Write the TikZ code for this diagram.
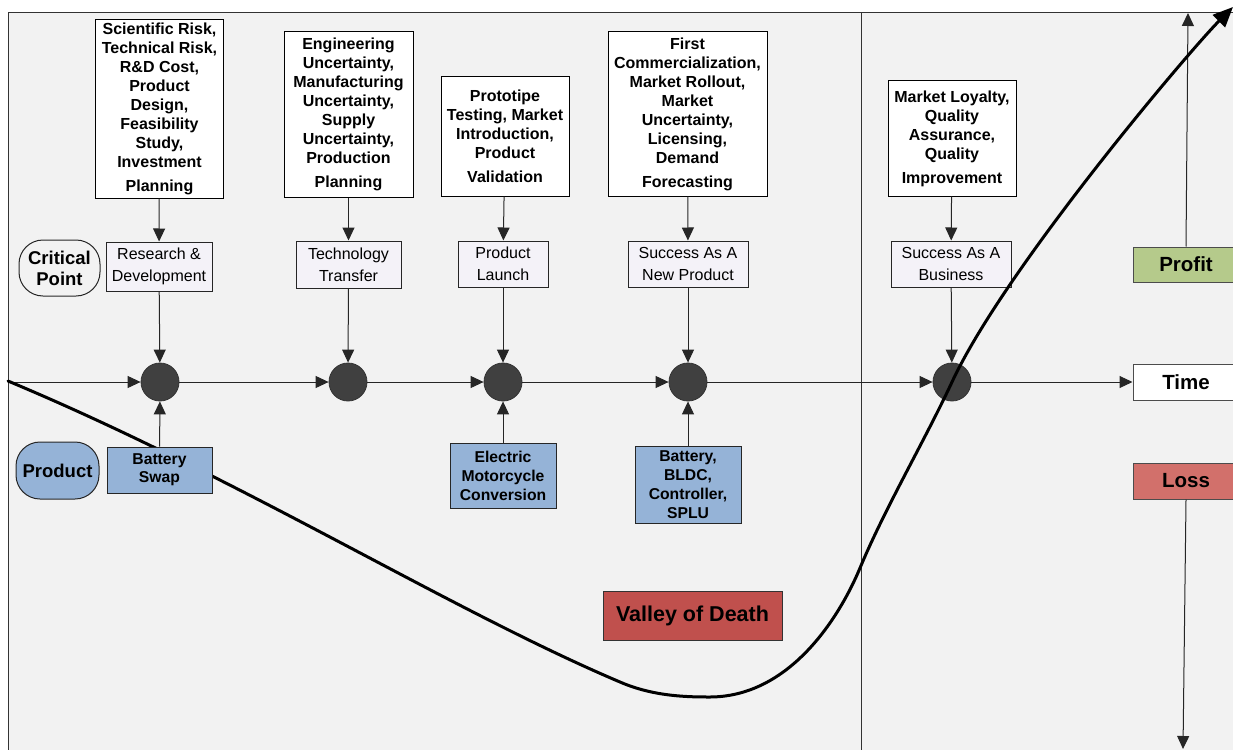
\documentclass[tikz,border=0pt]{standalone}
\usepackage{fontspec}
\setmainfont{Liberation Sans}
\usetikzlibrary{arrows.meta}
\definecolor{panel}{HTML}{F2F2F2}
\definecolor{lav}{HTML}{F4F2F8}
\definecolor{blu}{HTML}{95B3D7}
\definecolor{grn}{HTML}{B5CA8B}
\definecolor{lossc}{HTML}{D2706B}
\definecolor{valc}{HTML}{C0504D}
\definecolor{dotc}{HTML}{404040}
\begin{document}
\begin{tikzpicture}[x=1pt,y=-1pt,
  topbox/.style={draw=black, line width=1pt, fill=white, align=center, inner sep=0.5pt,
    font=\fontsize{16}{19}\selectfont\bfseries},
  midbox/.style={draw=black!85, line width=1pt, fill=lav, align=center, inner sep=0.5pt,
    font=\fontsize{16}{22}\selectfont},
  prodbox/.style={draw=black!85, line width=1pt, fill=blu, align=center, inner sep=0.5pt,
    font=\fontsize{15.7}{19}\selectfont\bfseries},
  sidebox/.style={draw=black!85, line width=1pt, align=center, inner sep=0.5pt,
    rounded corners=24pt, font=\fontsize{18.5}{21}\selectfont\bfseries},
  axisbox/.style={draw=black!70, line width=1pt, align=center, inner sep=0.5pt,
    minimum width=106pt, font=\fontsize{20.5}{24}\selectfont\bfseries},
  dot/.style={circle, fill=dotc, draw=black!80, line width=0.8pt, minimum size=38pt, inner sep=0pt},
  arr/.style={draw=black!85, line width=1pt, -{Triangle[length=13pt,width=12pt]}},
  bord/.style={draw=black!80, line width=1pt},
  curve/.style={line width=3pt, line cap=round, -{Triangle[length=20pt,width=17pt]}}
]
\useasboundingbox (0,0) rectangle (1233,749);
\fill[panel] (8,13) rectangle (1240,760);
\draw[bord] (8,760) -- (8,13) -- (1240,13);
\draw[bord] (861,13) -- (861,760);

% top boxes
\node[topbox, minimum width=128pt, minimum height=178pt] (A) at (159.5,109)
  {Scientific Risk,\\Technical Risk,\\R\&D Cost,\\Product\\Design,\\Feasibility\\Study,\\Investment\\[5pt]Planning};
\node[topbox, minimum width=129pt, minimum height=165pt] (B) at (348.5,114.5)
  {Engineering\\Uncertainty,\\Manufacturing\\Uncertainty,\\Supply\\Uncertainty,\\Production\\[5pt]Planning};
\node[topbox, minimum width=128pt, minimum height=119pt] (C) at (505,136.5)
  {Prototipe\\Testing, Market\\Introduction,\\Product\\[5pt]Validation};
\node[topbox, minimum width=159pt, minimum height=164pt] (D) at (687.5,114)
  {First\\Commercialization,\\Market Rollout,\\Market\\Uncertainty,\\Licensing,\\Demand\\[5pt]Forecasting};
\node[topbox, minimum width=128pt, minimum height=115pt] (E) at (952,138.5)
  {Market Loyalty,\\Quality\\Assurance,\\Quality\\[5pt]Improvement};

% critical points
\node[midbox, minimum width=106pt, minimum height=49pt] (RD) at (159,266.5) {Research \&\\Development};
\node[midbox, minimum width=105pt, minimum height=47pt] (TT) at (348.5,264.5) {Technology\\Transfer};
\node[midbox, minimum width=90pt, minimum height=46pt] (PL) at (503,264) {Product\\Launch};
\node[midbox, minimum width=120pt, minimum height=46pt] (SN) at (688,264) {Success As A\\New Product};
\node[midbox, minimum width=120pt, minimum height=46pt] (SB) at (951,264) {Success As A\\Business};

\node[sidebox, fill=panel, minimum width=81pt, minimum height=56pt] (CP) at (59.5,268) {Critical\\Point};
\node[sidebox, fill=blu, minimum width=83pt, minimum height=57pt] (PR) at (57.5,470.5) {Product};

% circles
\node[dot] (c1) at (160,382) {};
\node[dot] (c2) at (348,382) {};
\node[dot] (c3) at (503,382) {};
\node[dot] (c4) at (688,382) {};
\node[dot] (c5) at (952,382) {};

% right side
\node[axisbox, fill=white, minimum height=36pt] (Time) at (1186,382) {Time};
\node[axisbox, fill=grn, minimum height=35pt] (Profit) at (1186,264.5) {Profit};
\node[axisbox, fill=lossc, minimum height=36pt] (Loss) at (1186,481) {Loss};

% products
\node[prodbox, minimum width=106pt, minimum height=65pt] (EM) at (503,475.5) {Electric\\Motorcycle\\Conversion};
\node[prodbox, minimum width=106pt, minimum height=77pt] (BB) at (688,484.5) {Battery,\\BLDC,\\Controller,\\SPLU};

\node[draw=black!80, line width=1pt, fill=valc, minimum width=179pt, minimum height=49pt,
  font=\fontsize{21.5}{24}\selectfont\bfseries] (VD) at (692.5,615.5) {Valley of Death};

% arrows
\draw[arr] (A) -- (RD);
\draw[arr] (B) -- (TT);
\draw[arr] (C) -- (PL);
\draw[arr] (D) -- (SN);
\draw[arr] (E) -- (SB);
\draw[arr] (RD) -- (c1);
\draw[arr] (TT) -- (c2);
\draw[arr] (PL) -- (c3);
\draw[arr] (SN) -- (c4);
\draw[arr] (SB) -- (c5);
\coordinate (t0) at (8,382);
\draw[arr] (t0) -- (c1);
\draw[arr] (c1) -- (c2);
\draw[arr] (c2) -- (c3);
\draw[arr] (c3) -- (c4);
\draw[arr] (c4) -- (c5);
\draw[arr] (c5) -- (Time);
\draw[arr] (EM) -- (c3);
\draw[arr] (BB) -- (c4);
\coordinate (ptop) at (1188,13);
\coordinate (lbot) at (1183,749);
\draw[arr] (Profit.north) -- (ptop);
\draw[arr] (Loss.south) -- (lbot);

% curve
\draw[curve] (8,381) .. controls (240,478) and (450,610) .. (620,682)
  .. controls (650,695) and (680,697) .. (708,697)
  .. controls (790,698) and (840,616) .. (860,568)
  .. controls (885,508) and (925,440) .. (952,382)
  .. controls (1005,268) and (1190,50) .. (1233,7);

% battery swap on top of curve
\node[prodbox, minimum width=105pt, minimum height=46pt, font=\fontsize{15.7}{18}\selectfont\bfseries] (BS) at (159.5,470) {Battery\\Swap};
\draw[arr] (BS) -- (c1);
\end{tikzpicture}
\end{document}
